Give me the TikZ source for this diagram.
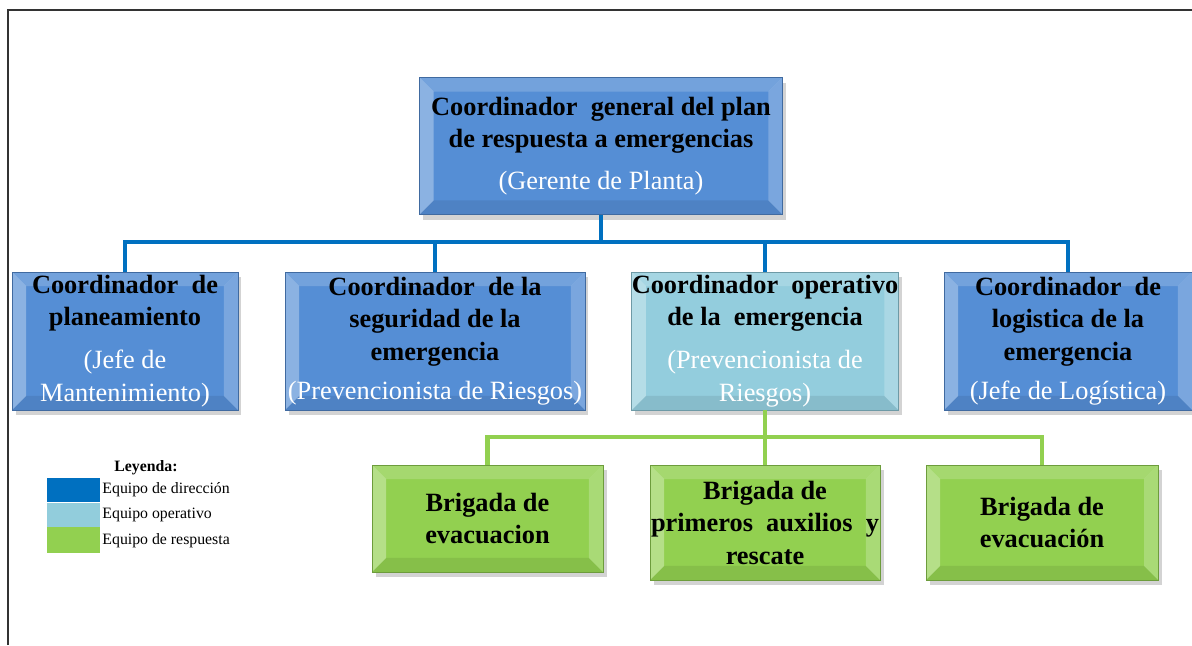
\documentclass[tikz,border=0pt]{standalone}
\usepackage{fontspec}
\setmainfont{Liberation Serif}
\usetikzlibrary{positioning, shadows}

\definecolor{dirblue}{RGB}{85,142,213}
\definecolor{opblue}{RGB}{147,205,221}
\definecolor{resgreen}{RGB}{146,208,80}
\definecolor{lineblue}{RGB}{0,112,192}
\definecolor{legblue}{RGB}{0,112,192}
\definecolor{leglight}{RGB}{146,205,220}

\newcommand{\cargo}[1]{{\bfseries #1}}
\newcommand{\jefe}[1]{{\color{white}#1}}

\tikzset{
  bevel/.style={path picture={
    \def\bw{0.28cm}
    \fill[white, opacity=0.18] (path picture bounding box.north west) -- (path picture bounding box.north east)
      -- ([xshift=-\bw,yshift=-\bw]path picture bounding box.north east) -- ([xshift=\bw,yshift=-\bw]path picture bounding box.north west) -- cycle;
    \fill[white, opacity=0.32] (path picture bounding box.north west) -- ([xshift=\bw,yshift=-\bw]path picture bounding box.north west)
      -- ([xshift=\bw,yshift=\bw]path picture bounding box.south west) -- (path picture bounding box.south west) -- cycle;
    \fill[white, opacity=0.22] (path picture bounding box.north east) -- ([xshift=-\bw,yshift=-\bw]path picture bounding box.north east)
      -- ([xshift=-\bw,yshift=\bw]path picture bounding box.south east) -- (path picture bounding box.south east) -- cycle;
    \fill[black, opacity=0.08] (path picture bounding box.south west) -- ([xshift=\bw,yshift=\bw]path picture bounding box.south west)
      -- ([xshift=-\bw,yshift=\bw]path picture bounding box.south east) -- (path picture bounding box.south east) -- cycle;
  }},
}

\begin{document}
\begin{tikzpicture}[
  x=0.02cm, y=-0.02cm,
  font=\fontsize{15}{18.5}\selectfont,
  orgbox/.style={draw=#1!75!black, line width=0.4pt, fill=#1, inner sep=0pt, align=center,
    drop shadow={opacity=0.35, shadow xshift=2pt, shadow yshift=-3pt}, bevel},
  dirline/.style={draw=lineblue, line width=2.6pt},
  resline/.style={draw=resgreen, line width=2.4pt},
  swatch/.style={minimum width=1.06cm, minimum height=0.48cm, inner sep=0pt},
  legtext/.style={font=\fontsize{9}{11}\selectfont, inner sep=1pt, anchor=west},
]
  \useasboundingbox (0,0) rectangle (1192,645);
  \draw[line width=1.4pt, black!80] (8,645) -- (8,10) -- (1192,10);

  % direccion
  \node[orgbox=dirblue, minimum width=7.26cm, minimum height=2.74cm] (gen) at (601,146)
    {\cargo{Coordinador\ \ general del plan}\\ \cargo{de respuesta a emergencias}\\[5pt] \jefe{(Gerente de Planta)}};

  \node[orgbox=dirblue, minimum width=4.52cm, minimum height=2.76cm] (plan) at (125,341)
    {\cargo{Coordinador\ \ de}\\ \cargo{planeamiento}\\[6pt] \jefe{(Jefe de}\\ \jefe{Mantenimiento)}};
  \node[orgbox=dirblue, minimum width=6.0cm, minimum height=2.76cm] (seg) at (435,341)
    {\cargo{Coordinador\ \ de la}\\ \cargo{seguridad de la}\\ \cargo{emergencia}\\[4pt] \jefe{(Prevencionista de Riesgos)}};
  \node[orgbox=opblue, minimum width=5.28cm, minimum height=2.76cm] (oper) at (765,341)
    {\cargo{Coordinador\ \ operativo}\\ \cargo{de la\ \ emergencia}\\[6pt] \jefe{(Prevencionista de}\\ \jefe{Riesgos)}};
  \node[orgbox=dirblue, minimum width=4.96cm, minimum height=2.76cm] (log) at (1068,341)
    {\cargo{Coordinador\ \ de}\\ \cargo{logistica de la}\\ \cargo{emergencia}\\[4pt] \jefe{(Jefe de Logística)}};

  % brigadas
  \node[orgbox=resgreen, minimum width=4.62cm, minimum height=2.14cm] (evac) at (487.5,518.5)
    {\cargo{Brigada de}\\ \cargo{evacuacion}};
  \node[orgbox=resgreen, minimum width=4.6cm, minimum height=2.3cm] (aux) at (765,522.5)
    {\cargo{Brigada de}\\ \cargo{primeros\ \ auxilios\ \ y}\\ \cargo{rescate}};
  \node[orgbox=resgreen, minimum width=4.64cm, minimum height=2.3cm] (evacb) at (1042,522.5)
    {\cargo{Brigada de}\\ \cargo{evacuación}};

  \foreach \c in {plan, seg, oper, log}
    \draw[dirline] (gen.south) -- ++(0,27) -| (\c.north);
  \foreach \c in {evac, aux, evacb}
    \draw[resline] (oper.south) -- ++(0,27) -| (\c.north);

  % leyenda
  \node[font=\bfseries\fontsize{9}{11}\selectfont, inner sep=0pt] (leytit) at (146,468) {Leyenda:};
  \node[swatch, fill=legblue] (swdir) at (73.5,490) {};
  \node[swatch, fill=leglight, below=0pt of swdir] (swop) {};
  \node[swatch, fill=resgreen, below=0pt of swop, minimum height=0.52cm] (swres) {};
  \node[legtext] at (swdir.east) {Equipo de dirección};
  \node[legtext] at (swop.east) {Equipo operativo};
  \node[legtext] at (swres.east) {Equipo de respuesta};
\end{tikzpicture}
\end{document}
